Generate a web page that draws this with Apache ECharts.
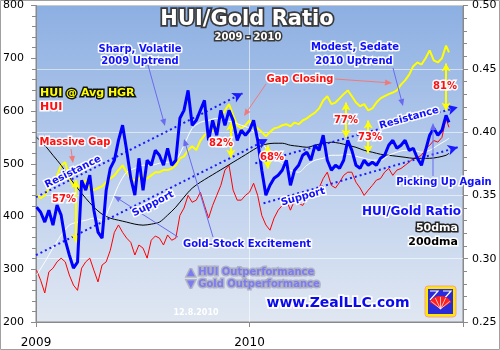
<!DOCTYPE html>
<html><head><meta charset="utf-8">
<script src="https://cdn.jsdelivr.net/npm/echarts@6/dist/echarts.min.js"></script>
<style>html,body{margin:0;padding:0;background:#fff}#c{width:500px;height:350px}</style>
</head><body><div id="c"></div>
<script>
// ---- data (weekly) ----
const dates = ['2009-01-02','2009-01-09','2009-01-16','2009-01-23','2009-01-30','2009-02-06','2009-02-13','2009-02-20','2009-02-27','2009-03-06',
'2009-03-13','2009-03-20','2009-03-27','2009-04-03','2009-04-10','2009-04-17','2009-04-24','2009-05-01','2009-05-08','2009-05-15',
'2009-05-22','2009-05-29','2009-06-05','2009-06-12','2009-06-19','2009-06-26','2009-07-03','2009-07-10','2009-07-17','2009-07-24',
'2009-07-31','2009-08-07','2009-08-14','2009-08-21','2009-08-28','2009-09-04','2009-09-11','2009-09-18','2009-09-25','2009-10-02',
'2009-10-09','2009-10-16','2009-10-23','2009-10-30','2009-11-06','2009-11-13','2009-11-20','2009-11-27','2009-12-04','2009-12-11',
'2009-12-18','2009-12-25','2010-01-01','2010-01-08','2010-01-15','2010-01-22','2010-01-29','2010-02-05','2010-02-12','2010-02-19',
'2010-02-26','2010-03-05','2010-03-12','2010-03-19','2010-03-26','2010-04-02','2010-04-09','2010-04-16','2010-04-23','2010-04-30',
'2010-05-07','2010-05-14','2010-05-21','2010-05-28','2010-06-04','2010-06-11','2010-06-18','2010-06-25','2010-07-02','2010-07-09',
'2010-07-16','2010-07-23','2010-07-30','2010-08-06','2010-08-13','2010-08-20','2010-08-27','2010-09-03','2010-09-10','2010-09-17',
'2010-09-24','2010-10-01','2010-10-08','2010-10-15','2010-10-22','2010-10-29','2010-11-05','2010-11-12','2010-11-19','2010-11-26',
'2010-12-03','2010-12-08'];
// HUI/Gold ratio (right axis)
const ratio = [0.3407,0.3367,0.3289,0.3383,0.3265,0.3423,0.3344,0.3147,0.3028,0.2926,
0.2973,0.3620,0.3541,0.3659,0.3383,0.3210,0.3162,0.3541,0.3714,0.3778,
0.3935,0.4054,0.3856,0.3636,0.3502,0.3793,0.3541,0.3778,0.3738,0.3856,
0.3817,0.3738,0.3872,0.3738,0.3778,0.4109,0.4172,0.4330,0.4054,0.4093,
0.4172,0.4251,0.3935,0.4093,0.3975,0.4172,0.4054,0.4172,0.4093,0.3935,
0.4014,0.3975,0.4014,0.4093,0.3935,0.3699,0.3502,0.3580,0.3636,0.3659,
0.3699,0.3778,0.3580,0.3699,0.3738,0.3817,0.3841,0.3778,0.3896,0.3856,
0.3975,0.3778,0.3699,0.3738,0.3714,0.3778,0.3935,0.3856,0.3738,0.3714,
0.3778,0.3738,0.3762,0.3738,0.3793,0.3817,0.3896,0.3935,0.3872,0.3896,
0.3935,0.3856,0.3872,0.3793,0.3738,0.3856,0.3975,0.4030,0.3975,0.4014,
0.4132,0.4077];
// HUI (left axis)
const hui = [298,279,255,295,302,314,321,314,289,270,
260,302,314,321,298,276,308,314,336,370,
384,370,359,351,327,346,340,321,355,363,
359,346,365,355,359,402,416,440,427,431,
446,421,397,421,440,459,488,497,450,431,
431,440,446,463,440,402,384,374,397,412,
421,431,412,431,425,421,435,440,450,454,
472,484,459,454,465,478,484,484,465,454,
440,450,459,469,472,484,491,478,488,491,
497,503,510,512,516,529,535,544,541,550,
586,569];
// HUI @ Avg HGR (left axis)
const huiAvgHgr = [440,435,440,454,463,478,497,503,472,459,
454,459,469,454,450,454,457,465,472,478,
488,497,484,472,469,472,478,472,478,484,
484,488,488,491,497,510,514,526,533,526,
544,554,560,563,573,586,601,613,592,573,
567,573,582,573,567,560,552,560,567,569,
573,575,571,578,575,582,586,592,597,605,
620,628,613,616,624,632,639,628,616,609,
613,601,605,616,624,628,632,635,639,650,
658,669,685,692,688,700,715,696,692,700,
724,711];
// moving averages of the ratio (bi-weekly readings)
const maDates = ['2009-01-02','2009-01-16','2009-01-30','2009-02-13','2009-02-27','2009-03-13','2009-03-27','2009-04-10','2009-04-24','2009-05-08',
'2009-05-22','2009-06-05','2009-06-19','2009-07-03','2009-07-17','2009-07-31','2009-08-14','2009-08-28','2009-09-11','2009-09-25',
'2009-10-09','2009-10-23','2009-11-06','2009-11-20','2009-12-04','2009-12-18','2010-01-01','2010-01-15','2010-01-29','2010-02-12',
'2010-02-26','2010-03-12','2010-03-26','2010-04-09','2010-04-23','2010-05-07','2010-05-21','2010-06-04','2010-06-18','2010-07-02',
'2010-07-16','2010-07-30','2010-08-13','2010-08-27','2010-09-10','2010-09-24','2010-10-08','2010-10-22','2010-11-05','2010-11-19',
'2010-12-03','2010-12-08'];
const dma50 = [0.2871,0.2973,0.3084,0.3186,0.3265,0.3289,0.3304,0.3320,0.3304,0.3423,
0.3580,0.3683,0.3714,0.3738,0.3738,0.3754,0.3762,0.3778,0.3896,0.4030,
0.4077,0.4093,0.4109,0.4093,0.4077,0.4054,0.4030,0.3975,0.3872,0.3793,
0.3754,0.3699,0.3683,0.3738,0.3778,0.3793,0.3817,0.3817,0.3825,0.3809,
0.3793,0.3778,0.3778,0.3817,0.3841,0.3856,0.3856,0.3841,0.3856,0.3896,
0.3935,0.3951];
const dma200 = [0.3959,0.3896,0.3817,0.3738,0.3644,0.3557,0.3478,0.3407,0.3352,0.3320,
0.3304,0.3289,0.3273,0.3265,0.3273,0.3289,0.3344,0.3407,0.3486,0.3557,
0.3604,0.3644,0.3683,0.3722,0.3762,0.3801,0.3841,0.3880,0.3904,0.3912,
0.3912,0.3896,0.3888,0.3880,0.3896,0.3912,0.3920,0.3912,0.3896,0.3880,
0.3856,0.3841,0.3825,0.3817,0.3809,0.3801,0.3793,0.3793,0.3793,0.3801,
0.3817,0.3833];
// trend channels on the ratio: [startDate, startRatio, endDate, endRatio]
const channels = [['2009-01-01',0.3486,'2009-12-20',0.4306],['2009-01-01',0.3028,'2010-02-01',0.3943],
['2010-01-11',0.3754,'2010-12-23',0.4196],['2010-01-25',0.3438,'2010-12-23',0.3880]];
// HUI vs HUI@AvgHGR gaps: [date, upperHUI, lowerHUI]
const gaps = [['2009-03-10',469,351],['2009-11-30',578,512],['2010-02-01',535,491],['2010-06-15',616,550],['2010-07-23',582,520],['2010-12-03',690,601]];
const xYears = ['2009','2010'];

// ---- build ----
const T0 = Date.UTC(2009,0,1), DAY = 86400000;
const dayNum = s => { const p = s.split('-').map(Number); return (Date.UTC(p[0],p[1]-1,p[2]) - T0)/DAY; };
const pts = (ds, vs) => vs.map((v,i)=>[dayNum(ds[i]), v]);
const F = '"DejaVu Sans", Verdana, sans-serif';

function txt(x,y,text,fill,size,o){ o=o||{};
  return {type:'text', x:x, y:y, rotation:o.rot||0, z:200, silent:true,
    style:{text:text, fill:fill, font:'bold '+size+'px '+F, align:o.align||'center', verticalAlign:'middle',
      stroke:o.stroke||'#fff', lineWidth:o.lw==null?3:o.lw, strokeFirst:true,
      shadowColor:o.sc||'rgba(0,0,0,0)', shadowBlur:o.sb||0, shadowOffsetX:o.sx||0, shadowOffsetY:o.sy||0}};
}
function arrow(x1,y1,x2,y2,color,w){ w=w||1;
  const a=Math.atan2(y2-y1,x2-x1), L=7, W=3;
  const p=[[x2,y2],[x2-L*Math.cos(a)+W*Math.sin(a), y2-L*Math.sin(a)-W*Math.cos(a)],[x2-L*Math.cos(a)-W*Math.sin(a), y2-L*Math.sin(a)+W*Math.cos(a)]];
  return [{type:'line',silent:true,z:150,shape:{x1:x1,y1:y1,x2:x2-3*Math.cos(a),y2:y2-3*Math.sin(a)},style:{stroke:color,lineWidth:w}},
          {type:'polygon',silent:true,z:150,shape:{points:p},style:{fill:color}}];
}
const BLUE='#1010ff', RED='#ff1010', HALO='rgba(255,255,255,0.95)', CALL='#6a6af0', PINK='#f07a7a';
const rays = [];
for (let k=0;k<5;k++){ const a=Math.PI*(1.22+0.14*k); rays.push({type:'line',silent:true,z:153,shape:{x1:440.5,y1:309,x2:440.5+12*Math.cos(a),y2:309+12*Math.sin(a)},style:{stroke:'#ffffff',lineWidth:0.7}}); }
const graphics = [].concat(
  [{type:'rect', silent:true, z:0, shape:{x:0.5,y:0.5,width:499,height:349}, style:{fill:'none', stroke:'#a0a0a0', lineWidth:1}}],
  arrow(148,65,165,126,CALL), arrow(393,68,403,106,CALL),
  arrow(178,237,114,196,CALL), arrow(213,237,184,139,CALL),
  arrow(433,176,433,123,CALL),
  arrow(71,149,73,163,PINK), arrow(335,79,392,83,PINK), arrow(266,84,244,116,PINK),
  [
  txt(247,20,'HUI/Gold Ratio','#ffffff',21,{stroke:'#3a3a3a',lw:3.5,sc:'rgba(0,0,0,0.5)',sb:2,sx:2,sy:2}),
  txt(248,37,'2009 - 2010','#ffffff',10,{stroke:'#3a3a3a',lw:3}),
  txt(140,49,'Sharp, Volatile',BLUE,10,{stroke:HALO}),
  txt(140,61,'2009 Uptrend',BLUE,10,{stroke:HALO}),
  txt(40,93,'HUI @ Avg HGR','#ffff00',11,{align:'left',stroke:'#111',lw:3}),
  txt(40,107,'HUI',RED,11,{align:'left',stroke:HALO}),
  txt(75,142,'Massive Gap',RED,10,{stroke:HALO}),
  txt(73,172,'Resistance',BLUE,10,{rot:0.464,stroke:HALO}),
  txt(64,199,'57%',RED,10,{stroke:HALO}),
  txt(153,204,'Support',BLUE,10,{rot:0.464,stroke:HALO}),
  txt(221,143,'82%',RED,10,{stroke:HALO}),
  txt(300,79,'Gap Closing',RED,10,{stroke:HALO}),
  txt(355,47,'Modest, Sedate',BLUE,10,{stroke:HALO}),
  txt(354,61,'2010 Uptrend',BLUE,10,{stroke:HALO}),
  txt(346,120,'77%',RED,10,{stroke:HALO}),
  txt(370,137,'73%',RED,10,{stroke:HALO}),
  txt(272,157,'68%',RED,10,{stroke:HALO}),
  txt(445,86,'81%',RED,10,{stroke:HALO}),
  txt(409,118,'Resistance',BLUE,10,{rot:0.27,stroke:HALO}),
  txt(303,197,'Support',BLUE,10,{rot:0.27,stroke:HALO}),
  txt(444,182,'Picking Up Again',BLUE,10,{stroke:HALO}),
  txt(461,212,'HUI/Gold Ratio',BLUE,12,{align:'right',stroke:HALO}),
  txt(458,228,'50dma','#ffffff',11,{align:'right',stroke:'#222',lw:3}),
  txt(458,242,'200dma','#000000',11,{align:'right',stroke:HALO}),
  txt(183,244,'Gold-Stock Excitement',BLUE,10,{align:'left',stroke:HALO}),
  txt(187,272,'\u25B2 HUI Outperformance','#7b7bf2',10,{align:'left',stroke:'rgba(170,170,185,0.85)',lw:3}),
  txt(187,284,'\u25BC Gold Outperformance','#7b7bf2',10,{align:'left',stroke:'rgba(170,170,185,0.85)',lw:3}),
  txt(196,313,'12.8.2010','#ffffff',8,{lw:0}),
  txt(338,303,'www.ZealLLC.com','#0a0aee',14,{stroke:HALO,lw:3.5}),
  {type:'rect',silent:true,z:150,shape:{x:425,y:286,width:31,height:31,r:3},style:{fill:'#ffe800',stroke:'#f4a0a0',lineWidth:1}},
  {type:'rect',silent:true,z:151,shape:{x:428,y:289,width:25,height:25},style:{fill:'#2a2ad8'}},
  {type:'polyline',silent:true,z:151,shape:{points:[[430,291],[438,291],[430,300]]},style:{stroke:'#ffffff',lineWidth:1.2,fill:'none'}},
  {type:'polyline',silent:true,z:151,shape:{points:[[443,291],[451,291],[443,300]]},style:{stroke:'#ffffff',lineWidth:1.2,fill:'none'}},
  {type:'sector',silent:true,z:152,shape:{cx:440.5,cy:309,r:13,r0:0,startAngle:Math.PI*1.18,endAngle:Math.PI*1.82},style:{fill:'#ff2020'}}
  ],
  rays
);

const chart = echarts.init(document.getElementById('c'), null, {renderer:'canvas'});
chart.setOption({
  animation:false,
  backgroundColor:'#ffffff',
  grid:{left:35,right:37,top:5,bottom:28,show:true,borderColor:'#8a8a8a',borderWidth:1,
    backgroundColor:new echarts.graphic.LinearGradient(0,0,0,1,[{offset:0,color:'#8cafe2'},{offset:0.5,color:'#b9cdec'},{offset:1,color:'#e0e7f2'}])},
  xAxis:{type:'value',min:0,max:730,interval:91.25,
    axisLine:{lineStyle:{color:'#8a8a8a'}},
    axisTick:{customValues:[0,365,730],length:5,lineStyle:{color:'#8a8a8a'}},
    axisLabel:{customValues:xYears.map(y=>dayNum(y+'-01-01')),formatter:v=>xYears[Math.round(v/365)],color:'#000',fontSize:12,fontFamily:F,margin:15},
    splitLine:{show:true,lineStyle:{color:'rgba(255,255,255,0.55)',width:1}}},
  yAxis:[
    {type:'value',min:200,max:800,interval:100,position:'left',
      axisLine:{show:true,lineStyle:{color:'#8a8a8a'}},
      axisTick:{show:true,length:5,lineStyle:{color:'#8a8a8a'}},
      minorTick:{show:true,splitNumber:5,length:4,lineStyle:{color:'#8a8a8a'}},
      axisLabel:{color:'#000',fontSize:11,fontFamily:F,margin:12},
      splitLine:{show:false}},
    {type:'value',min:0.25,max:0.50,interval:0.05,position:'right',
      axisLine:{show:true,lineStyle:{color:'#8a8a8a'}},
      axisTick:{show:true,length:5,lineStyle:{color:'#8a8a8a'}},
      minorTick:{show:true,splitNumber:5,length:4,lineStyle:{color:'#8a8a8a'}},
      axisLabel:{color:'#000',fontSize:11,fontFamily:F,margin:9,formatter:v=>v.toFixed(2)},
      splitLine:{show:true,lineStyle:{color:'rgba(255,255,255,0.55)',width:1}}}
  ],
  series:[
    {name:'HUI @ Avg HGR',type:'line',yAxisIndex:0,data:pts(dates,huiAvgHgr),symbol:'none',z:2,lineStyle:{color:'#ffff00',width:2}},
    {name:'HUI',type:'line',yAxisIndex:0,data:pts(dates,hui),symbol:'none',z:3,lineStyle:{color:'#ff0000',width:1}},
    {name:'200dma',type:'line',yAxisIndex:1,data:pts(maDates,dma200),symbol:'none',smooth:0.3,z:4,lineStyle:{color:'#000000',width:1}},
    {name:'50dma',type:'line',yAxisIndex:1,data:pts(maDates,dma50),symbol:'none',smooth:0.3,z:4,lineStyle:{color:'#ffffff',width:1}},
    {name:'HUI/Gold Ratio',type:'line',yAxisIndex:1,data:pts(dates,ratio),symbol:'none',z:5,lineStyle:{color:'#0000ff',width:3}},
    {name:'channels',type:'line',yAxisIndex:1,data:[],z:8,silent:true,
      markLine:{silent:true,animation:false,symbol:['none','arrow'],symbolSize:[8,10],label:{show:false},
        lineStyle:{color:'#1a1aff',width:2,type:[2,3]},
        data:channels.map(c=>[{coord:[dayNum(c[0]),c[1]]},{coord:[dayNum(c[2]),c[3]]}])}},
    {name:'gaps',type:'line',yAxisIndex:0,data:[],z:9,silent:true,
      markLine:{silent:true,animation:false,symbol:['arrow','arrow'],symbolSize:[7,8],label:{show:false},
        lineStyle:{color:'#ffff00',width:2,type:'solid'},
        data:gaps.map(g=>[{coord:[dayNum(g[0]),g[1]]},{coord:[dayNum(g[0]),g[2]]}])}}
  ],
  graphic:graphics
});
</script></body></html>
